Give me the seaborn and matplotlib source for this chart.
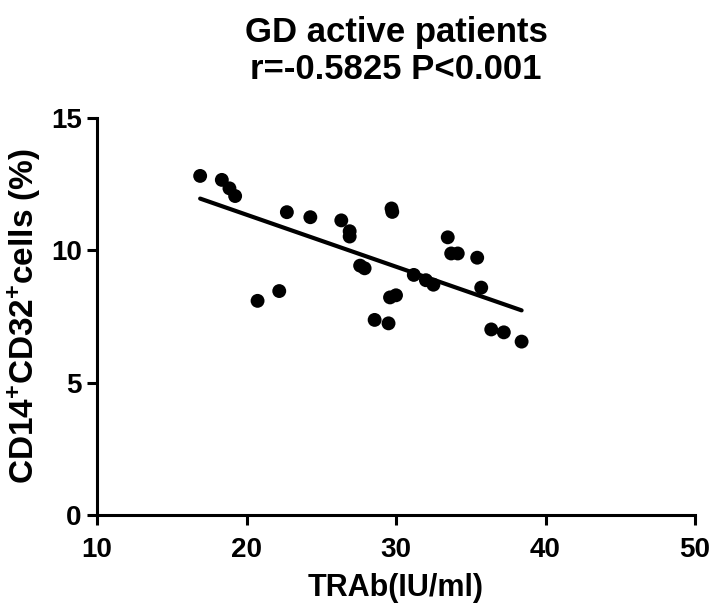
import matplotlib
matplotlib.use("Agg")
import matplotlib.pyplot as plt
import seaborn as sns
import pandas as pd

trab = [16.9, 18.35, 18.86, 19.24, 20.74, 22.19, 22.7, 24.27, 26.34, 26.9,
        26.9, 27.6, 27.9, 28.57, 29.5, 29.7, 29.75, 29.6, 30.0, 31.19,
        32.0, 32.5, 33.46, 33.69, 34.13, 35.43, 35.7, 36.37, 37.21, 38.4]
cd32 = [12.81, 12.66, 12.34, 12.05, 8.09, 8.46, 11.44, 11.25, 11.13, 10.72,
        10.52, 9.42, 9.32, 7.37, 7.24, 11.58, 11.45, 8.22, 8.30, 9.07,
        8.87, 8.70, 10.49, 9.88, 9.88, 9.72, 8.59, 7.01, 6.90, 6.55]
x_ticks = [10, 20, 30, 40, 50]
y_ticks = [0, 5, 10, 15]
title = "GD active patients\nr=-0.5825 P<0.001"
x_label = "TRAb(IU/ml)"
y_label = r"CD14$^{+}$CD32$^{+}$cells (%)"

df = pd.DataFrame({"TRAb": trab, "CD32": cd32})

sns.set_theme(style="ticks")
plt.rcParams["font.family"] = ["Liberation Sans", "DejaVu Sans"]
plt.rcParams["font.weight"] = "bold"
plt.rcParams["text.color"] = "black"
plt.rcParams["axes.labelcolor"] = "black"
plt.rcParams["mathtext.fontset"] = "custom"
plt.rcParams["mathtext.rm"] = "Liberation Sans:bold"
plt.rcParams["mathtext.bf"] = "Liberation Sans:bold"
plt.rcParams["mathtext.it"] = "Liberation Sans:bold"

fig = plt.figure(figsize=(7.09, 6.08), dpi=100)
ax = fig.add_axes([0.1368, 0.153, 0.9803 - 0.1368, 0.806 - 0.153])

sns.regplot(data=df, x="TRAb", y="CD32", ci=None, ax=ax,
            scatter_kws=dict(s=100, color="black", edgecolor="none", alpha=1, clip_on=False),
            line_kws=dict(color="black", lw=3))

ax.set_xlim(10, 50)
ax.set_ylim(0, 15)
ax.set_xticks(x_ticks)
ax.set_yticks(y_ticks)
ax.tick_params(axis="both", direction="out", length=7, width=2.2,
               labelsize=20, color="black", labelcolor="black")
ax.tick_params(axis="x", pad=9)
ax.tick_params(axis="y", pad=4)
for lbl in ax.get_xticklabels() + ax.get_yticklabels():
    lbl.set_fontweight("bold")
for side in ["top", "right"]:
    ax.spines[side].set_visible(False)
for side in ["left", "bottom"]:
    ax.spines[side].set_linewidth(2.2)
    ax.spines[side].set_color("black")

ax.set_xlabel(x_label, fontsize=22, fontweight="bold", labelpad=7)
ax.set_ylabel(y_label, fontsize=24, fontweight="bold", labelpad=6)
ax.set_title(title, fontsize=25, fontweight="bold", pad=28, linespacing=1.15,
             color="black")

fig.savefig("out.png", dpi=100)
